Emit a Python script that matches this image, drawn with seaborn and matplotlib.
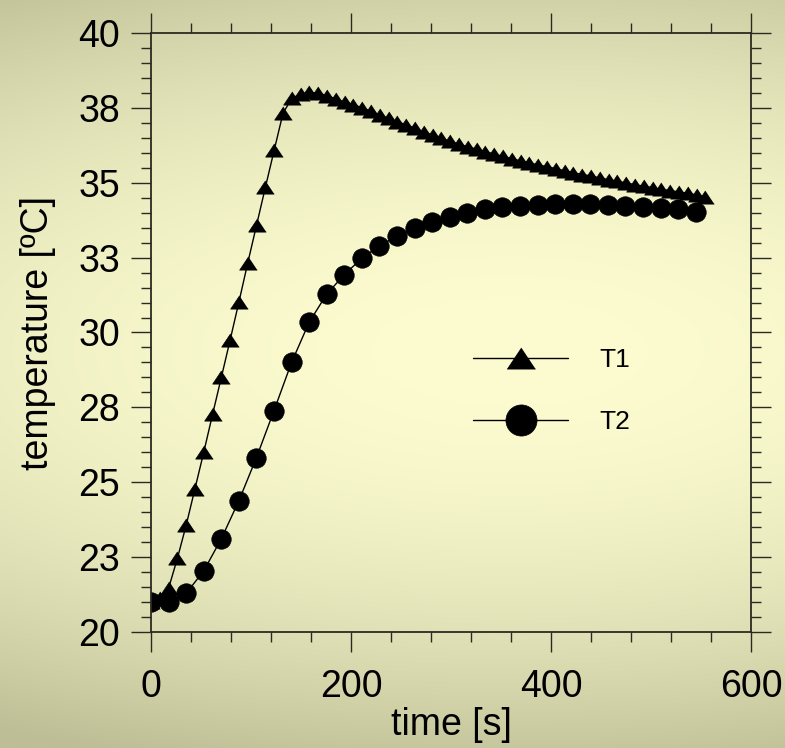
import numpy as np
import matplotlib
matplotlib.use("Agg")
import matplotlib.pyplot as plt
import seaborn as sns
from matplotlib.ticker import MultipleLocator, FixedLocator, FixedFormatter

# ---------------- data ----------------
time_T1 = [0.0, 8.8, 17.6, 26.4, 35.2, 44.0, 52.8, 61.6, 70.4, 79.2, 88.0, 96.8,
           105.6, 114.4, 123.2, 132.0, 140.8, 149.6, 158.4, 167.2, 176.0, 184.8,
           193.6, 202.4, 211.2, 220.0, 228.8, 237.6, 246.4, 255.2, 264.0, 272.8,
           281.6, 290.4, 299.2, 308.0, 316.8, 325.6, 334.4, 343.2, 352.0, 360.8,
           369.6, 378.4, 387.2, 396.0, 404.8, 413.6, 422.4, 431.2, 440.0, 448.8,
           457.6, 466.4, 475.2, 484.0, 492.8, 501.6, 510.4, 519.2, 528.0, 536.8,
           545.6, 554.4]
T1 = [21.00, 21.15, 21.46, 22.46, 23.57, 24.79, 26.01, 27.27, 28.51, 29.76, 31.03,
      32.33, 33.59, 34.85, 36.09, 37.32, 37.82, 37.96, 38.02, 37.99, 37.91, 37.80,
      37.69, 37.61, 37.50, 37.39, 37.26, 37.15, 37.04, 36.93, 36.82, 36.70, 36.59,
      36.48, 36.38, 36.29, 36.20, 36.12, 36.04, 35.96, 35.88, 35.80, 35.73, 35.67,
      35.59, 35.54, 35.47, 35.40, 35.34, 35.27, 35.23, 35.16, 35.10, 35.05, 34.99,
      34.94, 34.88, 34.84, 34.78, 34.74, 34.69, 34.65, 34.59, 34.53]

time_T2 = [0.0, 17.57, 35.14, 52.71, 70.28, 87.85, 105.42, 122.99, 140.56, 158.13,
           175.7, 193.27, 210.84, 228.41, 245.98, 263.55, 281.12, 298.69, 316.26,
           333.83, 351.4, 368.97, 386.54, 404.11, 421.68, 439.25, 456.82, 474.39,
           491.96, 509.53, 527.1, 544.67]
T2 = [21.00, 21.01, 21.29, 22.04, 23.11, 24.38, 25.82, 27.39, 29.00, 30.34, 31.28,
      31.93, 32.48, 32.89, 33.22, 33.48, 33.69, 33.87, 33.98, 34.12, 34.20, 34.24,
      34.27, 34.28, 34.28, 34.28, 34.26, 34.23, 34.20, 34.17, 34.12, 34.03]

series_labels = ["T1", "T2"]
y_tick_values = [20, 22.5, 25, 27.5, 30, 32.5, 35, 37.5, 40]
y_tick_labels = ["20", "23", "25", "28", "30", "33", "35", "38", "40"]
x_tick_values = [0, 200, 400, 600]
x_tick_labels = ["0", "200", "400", "600"]

# ---------------- style ----------------
sns.set_style("ticks")
plt.rcParams["font.family"] = ["Liberation Sans", "DejaVu Sans"]
plt.rcParams["text.color"] = "black"
plt.rcParams["axes.labelcolor"] = "black"

fig = plt.figure(figsize=(7.85, 7.48), dpi=100)

# background gradient
bg = fig.add_axes([0, 0, 1, 1], zorder=-10)
H, W = 300, 300
yy, xx = np.mgrid[0:1:H * 1j, 0:1:W * 1j]
t = np.clip(((yy - 0.47) / 0.53) ** 2 * 0.85 + ((xx - 0.65) / 0.65) ** 2 * 0.22, 0, 1)
light = np.array([252, 252, 208]) / 255.0
dark = np.array([190, 190, 150]) / 255.0
img = light[None, None, :] * (1 - t[..., None]) + dark[None, None, :] * t[..., None]
bg.imshow(img, aspect="auto", extent=[0, 1, 0, 1], origin="upper")
bg.set_axis_off()

ax = fig.add_axes([151 / 785, 1 - 632 / 748, 600 / 785, 599 / 748])
ax.patch.set_alpha(0)

tri = [(0, 0.75), (-1, -0.75), (1, -0.75)]
sns.lineplot(x=time_T1, y=T1, ax=ax, color="black", linewidth=1.0,
             marker=tri, markersize=12.7, markeredgecolor="black",
             markeredgewidth=0.5, label=series_labels[0], sort=False)
sns.lineplot(x=time_T2, y=T2, ax=ax, color="black", linewidth=1.0,
             marker="o", markersize=14, markeredgecolor="black",
             markeredgewidth=0.5, label=series_labels[1], sort=False)

ax.set_xlim(0, 600)
ax.set_ylim(20, 40)
ax.xaxis.set_major_locator(FixedLocator(x_tick_values))
ax.xaxis.set_major_formatter(FixedFormatter(x_tick_labels))
ax.xaxis.set_minor_locator(MultipleLocator(40))
ax.yaxis.set_major_locator(FixedLocator(y_tick_values))
ax.yaxis.set_major_formatter(FixedFormatter(y_tick_labels))
ax.yaxis.set_minor_locator(MultipleLocator(0.5))

spine_color = "#2a2a22"
for s in ax.spines.values():
    s.set_visible(True)
    s.set_color(spine_color)
    s.set_linewidth(1.3)

ax.tick_params(which="both", direction="out", top=True, right=True,
               color=spine_color, width=1.0, labelsize=27, labelcolor="black")
ax.tick_params(which="major", length=14.4)
ax.tick_params(which="minor", length=7.2)
ax.tick_params(axis="x", which="major", pad=12)
ax.tick_params(axis="y", which="major", pad=8)

ax.set_xlabel("time [s]", fontsize=27, labelpad=2, color="black")
ax.set_ylabel("temperature [ºC]", fontsize=27, labelpad=16, color="black")

leg = ax.legend(loc="center left", bbox_to_anchor=(460 / 785, 1 - 391 / 748),
                bbox_transform=fig.transFigure, frameon=False, fontsize=19,
                markerscale=1.6, handlelength=3.6, handletextpad=1.2,
                labelspacing=1.45, borderpad=0)
for txt in leg.get_texts():
    txt.set_color("black")

fig.savefig("out.png", dpi=100)
